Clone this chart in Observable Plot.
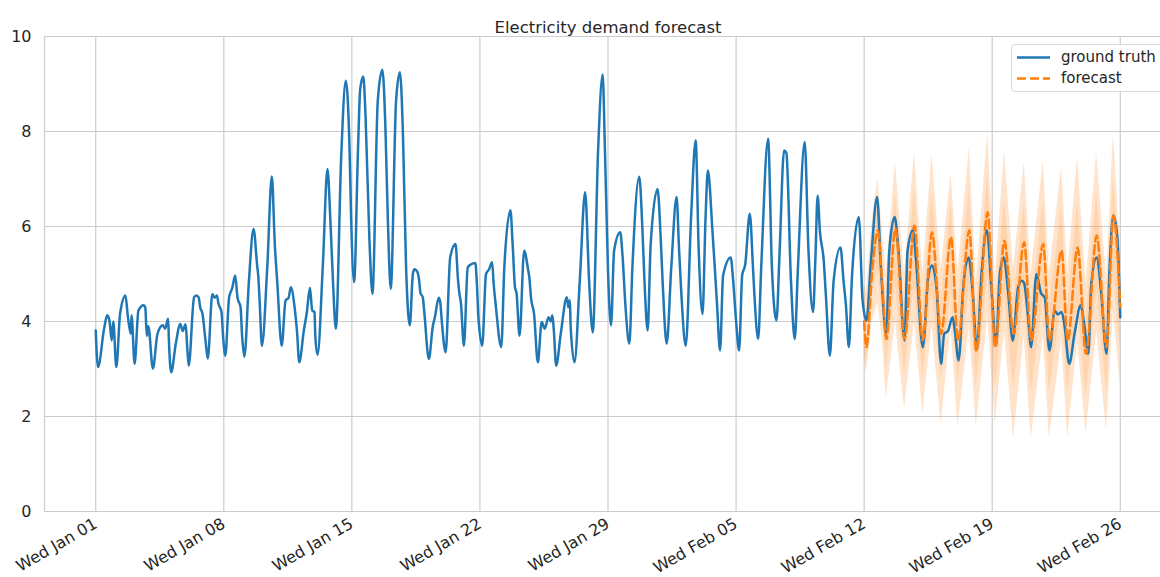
<!DOCTYPE html>
<html><head><meta charset="utf-8">
<script src="https://cdn.jsdelivr.net/npm/d3@7"></script>
<script src="https://cdn.jsdelivr.net/npm/@observablehq/plot@0.6"></script>
<style>
body{margin:0;background:#fff;}
#wrap{position:relative;width:1160px;height:577px;overflow:hidden;font-family:"DejaVu Sans",sans-serif;color:#262626;}
#chart{width:1171px;}
#chart svg{max-width:none !important;}
#legend{position:absolute;left:1011px;top:44px;width:153px;height:48px;box-sizing:border-box;border:1px solid #d9d9d9;border-radius:4px;background:rgba(255,255,255,0.85);font-size:15px;}
#legend .row{position:absolute;left:0;height:22px;line-height:22px;white-space:nowrap;}
#legend svg{position:absolute;left:5px;top:0;}
#legend span{position:absolute;left:49px;top:0;}
</style></head>
<body><div id="wrap"><div id="chart"></div>
<div id="legend">
 <div class="row" style="top:1px"><svg width="36" height="22"><line x1="0" y1="11.5" x2="33" y2="11.5" stroke="#1f77b4" stroke-width="2.5"/></svg><span>ground truth</span></div>
 <div class="row" style="top:22px"><svg width="36" height="22"><line x1="0" y1="11.5" x2="33" y2="11.5" stroke="#ff7f0e" stroke-width="2.5" stroke-dasharray="9,4"/></svg><span>forecast</span></div>
</div></div>
<script>
// hours since Wed 2025-01-01 00:00 UTC
const truthHours = [
0,3,11,15,18,21,23,27,32,39,42,46,47,51,56,63,65,67,69,75,81,88,91,95,96,99,105,111,114,118,120,122,129,132,135,137,140,144,147,153,156,159,161,165,167,
170,175,179,183,186,190,192,195,201,207,212,213,215,218,225,231,235,238,244,249,253,256,261,264,267,273,277,281,284,287,288,291,298,304,308,311,315,
322,328,333,335,339,344,347,351,354,359,363,370,376,380,383,387,394,399,403,407,412,416,418,421,424,426,429,431,437,442,445,450,452,454,459,465,472,475,477,479,483,
488,492,498,500,502,507,512,516,520,522,525,532,536,544,547,550,552,556,562,567,569,571,575,580,585,589,594,597,599,601,604,610,618,620,622,623,628,635,642,647,648,652,
659,665,668,672,676,680,688,691,695,700,704,713,717,720,724,728,737,741,744,749,755,762,765,768,774,781,787,791,796,800,803,809,815,819,823,833,836,840,844,
848,852,858,862,864,869,873,882,887,893,897,903,906,912,917,921,930,935,941,944,947,950,955,958,963,968,977,981,984,988,992,1001,1006,1011,
1017,1025,1030,1037,1041,1048,1053,1061,1065,1072,1076,1085,1092,1097,1103,1109,1113,1118,1124,1127,1132,1138,1145,1150,1156,1162,1169,1175,
1181,1186,1191,1197,1203,1210,1215,1218,1223,1227,1234,1240,1245,1251,1258,1262,1267,1271,1277,1284,1292,1297,1302,1306,1313,1319,1326,1330,1335,1340,1344];
const truthValues = [
3.81,3.04,3.85,4.13,4.02,3.6,4.0,3.04,4.17,4.55,4.13,3.74,4.13,3.11,4.23,4.34,4.3,3.7,3.9,3.01,3.74,3.92,3.85,4.06,3.6,2.93,3.53,3.95,3.8,3.94,3.46,3.07,4.51,4.55,4.51,4.3,4.17,3.6,3.22,4.58,4.5,4.55,4.38,4.2,3.7,
3.28,4.51,4.7,4.97,4.5,4.3,3.7,3.26,4.86,5.95,5.14,5.0,4.44,3.49,5.14,7.05,5.6,4.86,3.49,4.44,4.5,4.72,4.28,3.8,3.14,3.81,4.2,4.71,4.23,4.2,3.7,3.3,5.21,7.21,6.06,4.93,3.85,
7.46,9.07,7.6,6.2,4.83,7.6,8.9,9.16,8.3,5.74,4.58,8.65,9.3,8.09,6.27,4.69,8.65,9.25,7.96,5.21,3.92,5.0,5.1,5.07,4.9,4.6,4.51,4.2,3.21,3.88,4.1,4.5,4.4,4.0,3.35,5.35,5.63,4.93,4.6,4.4,3.49,
5.14,5.2,5.23,4.8,4.09,3.49,5.0,5.1,5.25,4.8,4.3,3.46,5.14,6.34,5.6,4.72,4.6,3.7,5.49,5.11,4.9,4.5,4.16,3.14,3.99,3.85,4.09,4.0,4.13,3.8,3.07,3.74,4.51,4.3,4.45,3.9,3.14,4.86,6.72,4.93,4.6,3.77,
7.6,9.2,7.6,5.07,3.92,5.49,5.88,5.4,4.3,3.53,5.14,7.05,6.0,4.79,3.81,5.63,6.79,5.8,4.72,3.53,5.14,6.62,5.6,4.65,3.49,6.2,7.81,5.49,4.16,6.2,7.18,5.92,4.37,3.39,4.97,5.35,4.9,4.02,3.39,
4.97,5.2,6.27,5.2,4.58,3.63,5.14,7.85,5.14,4.02,5.42,7.6,7.55,4.86,3.63,5.07,7.78,5.49,4.2,5.3,6.65,5.9,5.28,4.5,3.28,4.86,5.56,4.85,4.37,3.46,4.93,6.2,4.44,4.02,
5.28,6.62,5.14,3.74,5.49,6.2,5.5,3.6,5.49,5.92,5.3,3.46,4.93,5.18,4.7,3.11,3.74,3.8,4.09,3.8,3.18,4.72,5.35,4.7,3.42,5.0,5.92,4.7,
3.49,5.0,5.35,4.6,3.6,4.72,4.86,4.8,4.1,3.46,5.0,4.6,4.5,3.39,4.23,4.15,4.2,3.9,3.11,3.74,4.34,3.9,3.32,4.79,5.35,4.6,3.32,5.14,6.23,5.8,4.09];

const fcHours   = [1008,1011,1019,1026,1032,1037,1049,1061,1074,1085,1097,1109,1122,1131,1146,1155,1170,1180,1192,1204,1218,1227,1243,1251,1267,1275,1288,1299,1313,1326,1335,1344];
const fcMedian  = [4.0,3.46,5.14,5.92,4.72,3.63,5.95,3.63,6.02,3.6,5.88,3.74,5.78,3.6,5.92,3.39,6.3,3.46,5.7,3.74,5.67,3.6,5.63,3.6,5.49,3.6,5.56,3.32,5.81,3.46,6.23,4.3];
const fcOuterLo = [3.3,2.9,4.0,4.4,3.6,2.37,4.0,2.16,4.0,2.06,3.9,1.85,3.9,1.78,3.9,1.78,4.1,1.85,3.8,1.53,3.7,1.53,3.7,1.53,3.6,1.56,3.6,1.64,3.8,1.7,4.2,2.69];
const fcOuterHi = [4.8,4.6,6.2,7.0,5.9,5.0,7.35,5.0,7.56,5.0,7.53,5.1,7.1,5.0,7.67,4.8,7.99,4.9,7.6,5.1,7.35,5.0,7.39,5.0,7.25,5.0,7.47,4.8,7.56,4.9,7.94,5.6];
const fcInnerLo = [3.6,3.1,4.6,5.1,4.2,3.0,4.8,2.9,4.8,2.8,4.7,2.8,4.7,2.7,4.7,2.6,5.0,2.6,4.6,2.6,4.6,2.5,4.5,2.5,4.4,2.5,4.4,2.4,4.7,2.5,5.1,3.4];
const fcInnerHi = [4.4,4.1,5.7,6.5,5.3,4.3,6.7,4.3,6.8,4.3,6.7,4.4,6.5,4.3,6.8,4.1,7.1,4.2,6.6,4.4,6.5,4.3,6.5,4.3,6.4,4.3,6.5,4.0,6.7,4.2,7.0,5.0];

const tickDates = ["2025-01-01","2025-01-08","2025-01-15","2025-01-22","2025-01-29","2025-02-05","2025-02-12","2025-02-19","2025-02-26"];
const yTicks = [0,2,4,6,8,10];
const title = "Electricity demand forecast";

const START = Date.UTC(2025,0,1);
const toDate = h => new Date(START + h*3600e3);
const truth = truthHours.map((h,i)=>({t:toDate(h), v:truthValues[i]}));
const fc = fcHours.map((h,i)=>({t:toDate(h), med:fcMedian[i], olo:fcOuterLo[i], ohi:fcOuterHi[i], ilo:fcInnerLo[i], ihi:fcInnerHi[i]}));
const ticks = tickDates.map(s=>new Date(s+"T00:00:00Z"));
const span = 1344, pad = span*0.05;
const xDomain = [toDate(-pad), toDate(span+pad)];

const chart = Plot.plot({
  width: 1171, height: 577,
  marginLeft: 44, marginRight: 0, marginTop: 36, marginBottom: 66,
  style: {fontFamily: '"DejaVu Sans", sans-serif', fontSize: "16px", color: "#262626", background: "#fff", maxWidth: "none"},
  x: {type: "utc", domain: xDomain},
  y: {domain: [0, 10]},
  marks: [
    Plot.gridX(ticks, {stroke: "#cccccc", strokeOpacity: 1, strokeWidth: 1.2}),
    Plot.gridY(yTicks, {stroke: "#cccccc", strokeOpacity: 1, strokeWidth: 1.2}),
    Plot.ruleX([xDomain[0]], {stroke: "#cccccc", strokeWidth: 1.2}),
    Plot.areaY(fc, {x: "t", y1: "olo", y2: "ohi", fill: "#ff7f0e", fillOpacity: 0.22}),
    Plot.areaY(fc, {x: "t", y1: "ilo", y2: "ihi", fill: "#ff7f0e", fillOpacity: 0.14}),
    Plot.line(truth, {x: "t", y: "v", stroke: "#1f77b4", strokeWidth: 2.5, curve: "monotone-x"}),
    Plot.line(fc, {x: "t", y: "med", stroke: "#ff7f0e", strokeWidth: 2.5, strokeDasharray: "9,4", curve: "monotone-x"}),
    Plot.axisY({ticks: yTicks, tickSize: 0, tickPadding: 13, fontSize: 16, label: null}),
    Plot.axisX({ticks: ticks, tickFormat: d3.utcFormat("%a %b %d"), tickSize: 0, tickPadding: 11, tickRotate: -30, textAnchor: "end", fontSize: 16, label: null}),
    Plot.text([title], {frameAnchor: "top", dy: -15, fontSize: 16.5, fill: "#262626"})
  ]
});
document.getElementById("chart").appendChild(chart);
</script>
</body></html>
